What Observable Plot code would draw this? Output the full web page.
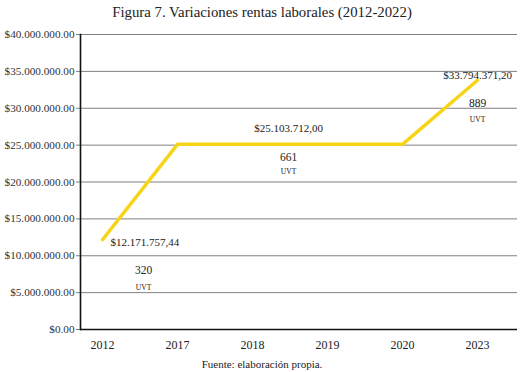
<!DOCTYPE html>
<html>
<head>
<meta charset="utf-8">
<script src="https://cdn.jsdelivr.net/npm/d3@7"></script>
<script src="https://cdn.jsdelivr.net/npm/@observablehq/plot@0.6"></script>
<style>
  html, body { margin: 0; padding: 0; background: #fff; }
  #wrap { position: relative; width: 524px; height: 372px; font-family: "Liberation Serif", "DejaVu Serif", serif; color: #222; }
  #title { position: absolute; left: 0; top: 2px; width: 524px; text-align: center; font-size: 14.8px; line-height: 20px; }
  #chart { position: absolute; left: 0; top: 26px; }
  #chart svg, #chart svg text, #chart svg g { font-family: "Liberation Serif", "DejaVu Serif", serif !important; }
  #caption { position: absolute; left: 0; top: 357px; width: 524px; text-align: center; font-size: 11px; line-height: 14px; font-family: "Liberation Serif", "DejaVu Serif", serif; }
</style>
</head>
<body>
<div id="wrap">
  <div id="title">Figura 7. Variaciones rentas laborales (2012-2022)</div>
  <div id="chart"></div>
  <div id="caption">Fuente: elaboración propia.</div>
</div>
<script>
const years = ["2012", "2017", "2018", "2019", "2020", "2023"];
const rentas = [12171757.44, 25103712.00, 25103712.00, 25103712.00, 25103712.00, 33794371.20];
const yTicks = [0, 5e6, 10e6, 15e6, 20e6, 25e6, 30e6, 35e6, 40e6];
const annoYears = ["2012", "2018", "2023"];
const annoRentas = [12171757.44, 25103712.00, 33794371.20];
const annoUvt = [320, 661, 889];

const data = years.map((y, i) => ({year: y, value: rentas[i]}));
const anno = annoYears.map((y, i) => ({year: y, value: annoRentas[i], uvt: annoUvt[i]}));

const axisFmt = d => "$" + d3.format(",.2f")(d).replace(/,/g, ".");
const esLocale = d3.formatLocale({decimal: ",", thousands: ".", grouping: [3], currency: ["$", ""]});
const valFmt = d => "$" + esLocale.format(",.2f")(d);

const font = '"Liberation Serif", "DejaVu Serif", serif';

const marks = [
  Plot.ruleY(yTicks.filter(d => d > 0), {stroke: "#808080", strokeWidth: 1}),
  Plot.axisY(yTicks, {tickFormat: axisFmt, tickSize: 4, tickPadding: 2, fontSize: 11.2, stroke: "#808080", fill: "#333"}),
  Plot.axisX({tickSize: 0, tickPadding: 11, fontSize: 12, fill: "#222"}),
  Plot.ruleY([0], {stroke: "#111", strokeWidth: 1.6}),
  Plot.frame({anchor: "left", stroke: "#111", strokeWidth: 1.6}),
  Plot.line(data, {x: "year", y: "value", stroke: "#F7D417", strokeWidth: 3.5}),
  // 2012
  Plot.text(anno.slice(0, 1), {x: "year", y: "value", text: d => valFmt(d.value), textAnchor: "start", dx: 8, dy: 3, fontSize: 11, fill: "#222"}),
  Plot.text(anno.slice(0, 1), {x: "year", y: "value", text: d => String(d.uvt), dx: 41, dy: 31, fontSize: 11.5, fill: "#222"}),
  Plot.text(anno.slice(0, 1), {x: "year", y: "value", text: () => "UVT", dx: 41, dy: 48, fontSize: 7.5, fill: "#111", letterSpacing: 0.7}),
  // 2018
  Plot.text(anno.slice(1, 2), {x: "year", y: "value", text: d => valFmt(d.value), dx: 36, dy: -16, fontSize: 11, fill: "#222"}),
  Plot.text(anno.slice(1, 2), {x: "year", y: "value", text: d => String(d.uvt), dx: 36, dy: 13, fontSize: 11.5, fill: "#222"}),
  Plot.text(anno.slice(1, 2), {x: "year", y: "value", text: () => "UVT", dx: 36, dy: 27, fontSize: 7.5, fill: "#111", letterSpacing: 0.7}),
  // 2023
  Plot.text(anno.slice(2, 3), {x: "year", y: "value", text: d => valFmt(d.value), dx: 0, dy: -5, fontSize: 11, fill: "#222"}),
  Plot.text(anno.slice(2, 3), {x: "year", y: "value", text: d => String(d.uvt), dx: 0, dy: 23, fontSize: 11.5, fill: "#222"}),
  Plot.text(anno.slice(2, 3), {x: "year", y: "value", text: () => "UVT", dx: 0, dy: 39, fontSize: 7.5, fill: "#111", letterSpacing: 0.7})
];

const chart = Plot.plot({
  width: 524,
  height: 333,
  marginLeft: 80,
  marginRight: 7,
  marginTop: 8,
  marginBottom: 30,
  style: {fontFamily: font, background: "transparent", overflow: "visible"},
  x: {type: "point", domain: years, padding: 0, insetLeft: 21, insetRight: 39, label: null},
  y: {domain: [0, 40e6], label: null},
  marks
});
document.getElementById("chart").appendChild(chart);
</script>
</body>
</html>
